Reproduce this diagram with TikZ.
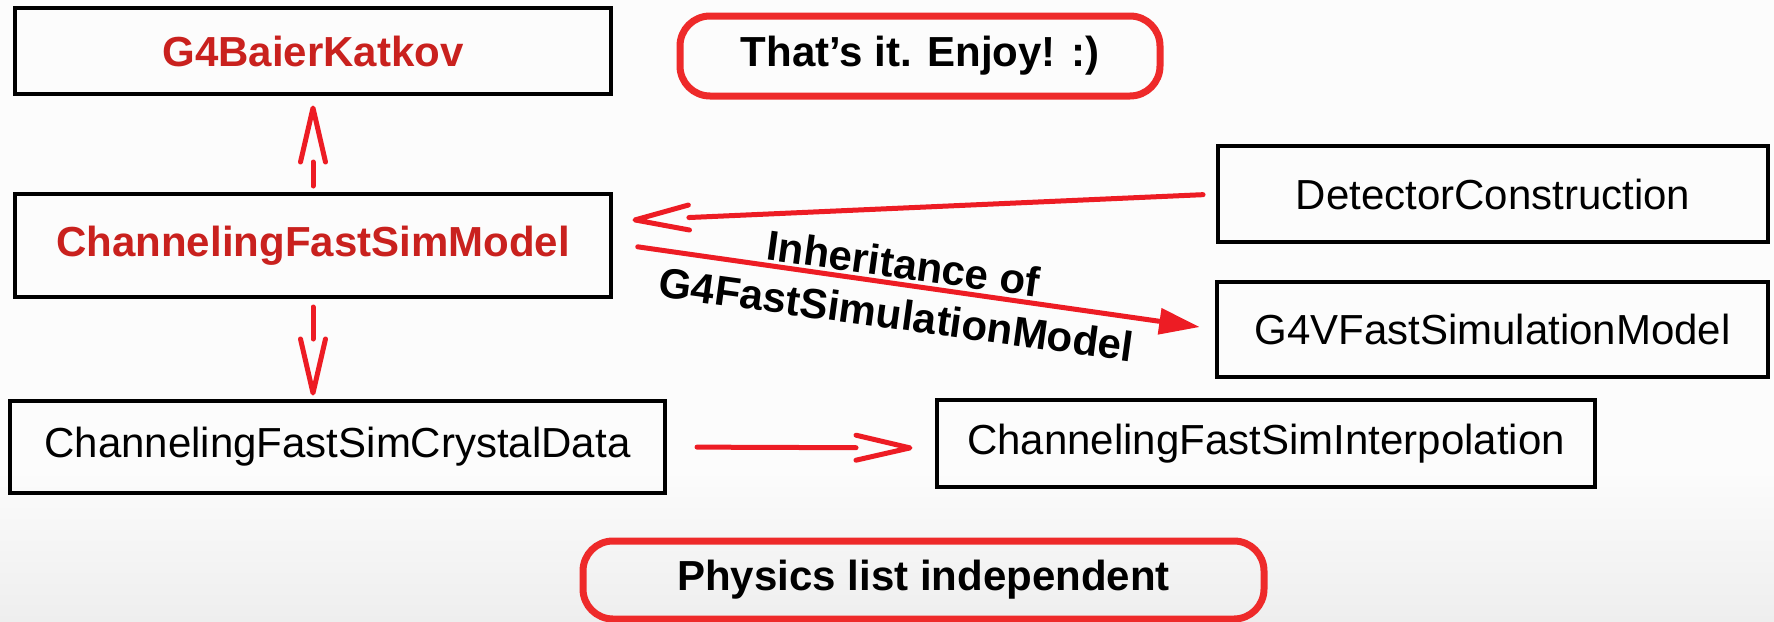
\documentclass[tikz,border=0pt]{standalone}
\usepackage{fontspec}
\setmainfont{Liberation Sans}
\usetikzlibrary{arrows.meta,calc}

\definecolor{linkred}{RGB}{237,28,36}
\definecolor{namered}{RGB}{201,33,30}
\definecolor{framered}{RGB}{238,42,42}
\definecolor{paper}{RGB}{252,252,252}
\definecolor{paperdark}{RGB}{238,238,238}

% open "V" head whose shaft stops at the base of the head
\pgfdeclarearrow{
  name = OpenV,
  parameters = {\the\pgfarrowlength,\the\pgfarrowwidth},
  setup code = {
    \pgfarrowssettipend{0pt}
    \pgfarrowssetlineend{-\pgfarrowlength}
    \pgfarrowssetbackend{-\pgfarrowlength}
    \pgfarrowssavethe\pgfarrowlength
    \pgfarrowssavethe\pgfarrowwidth
  },
  drawing code = {
    \pgfsetroundcap
    \pgfsetroundjoin
    \pgfpathmoveto{\pgfpoint{-\pgfarrowlength}{0.5\pgfarrowwidth}}
    \pgfpathlineto{\pgfpointorigin}
    \pgfpathlineto{\pgfpoint{-\pgfarrowlength}{-0.5\pgfarrowwidth}}
    \pgfusepathqstroke
  },
  defaults = {length=54pt, width=25pt}
}

\begin{document}
\begin{tikzpicture}[x=1pt,y=-1pt,
  bigtext/.style={font=\fontsize{42}{50}\selectfont},
  classbox/.style={draw=black, line width=4pt, inner sep=0pt, outer sep=0pt,
                   bigtext, text=black},
  ownclass/.style={classbox, text=namered, font=\bfseries\fontsize{42}{50}\selectfont},
  notebox/.style={draw=framered, line width=7pt, rounded corners=30pt,
                  inner sep=0pt, outer sep=0pt, text=black,
                  font=\bfseries\fontsize{42}{50}\selectfont},
  link/.style={draw=linkred, line width=5pt, line cap=round},
  openlink/.style={link, -{OpenV[length=54pt,width=25pt]}},
  filledlink/.style={link, -{Triangle[length=40pt,width=27pt,line width=0pt]}}
]
\useasboundingbox (0,0) rectangle (1774,621);
\fill[paper] (0,0) rectangle (1774,621);
\shade[top color=paper, bottom color=paperdark] (0,470) rectangle (1774,621);

% classes
\node[ownclass, minimum width=596pt, minimum height=86pt]  (baier)    at (313,51)      {G4BaierKatkov};
\node[ownclass, minimum width=596pt, minimum height=103pt] (model)    at (313,245.5)   {ChannelingFastSimModel};
\node[classbox, minimum width=655pt, minimum height=92pt]  (crystal)  at (337.5,447)   {ChannelingFastSimCrystalData};
\node[classbox, minimum width=658pt, minimum height=87pt]  (interp)   at (1266,443.5)  {ChannelingFastSimInterpolation};
\node[classbox, minimum width=550pt, minimum height=96pt]  (detector) at (1493,194)    {DetectorConstruction};
\node[classbox, minimum width=551pt, minimum height=95pt]  (g4v)      at (1492.5,329.5){G4VFastSimulationModel};

% remarks
\node[notebox, minimum width=480pt, minimum height=80pt] (enjoy)   at (920,56)    {That’s it. Enjoy! :)};
\node[notebox, minimum width=681pt, minimum height=78pt] (physics) at (923.5,580) {Physics list independent};

% relations
\draw[openlink, shorten <=8pt, shorten >=14pt] (model.north) -- (baier.south);
\draw[openlink, shorten <=10pt, shorten >=8pt] (model.south) -- (model.south |- crystal.north);
\draw[openlink, shorten <=15pt, shorten >=24pt] (detector.west) -- ([yshift=24.5pt]model.east);
\draw[openlink, shorten <=32pt, shorten >=27pt] (crystal.east) -- ([yshift=-4.5pt]interp.west);
\draw[filledlink, shorten <=27pt, shorten >=18pt] ([yshift=2.5pt]model.east) -- (g4v.west);

\node[font=\bfseries\fontsize{42}{51}\selectfont, align=center, rotate=-7.8,
      inner sep=0pt] (inherit) at (900,289) {Inheritance of\\G4FastSimulationModel};
\end{tikzpicture}
\end{document}
